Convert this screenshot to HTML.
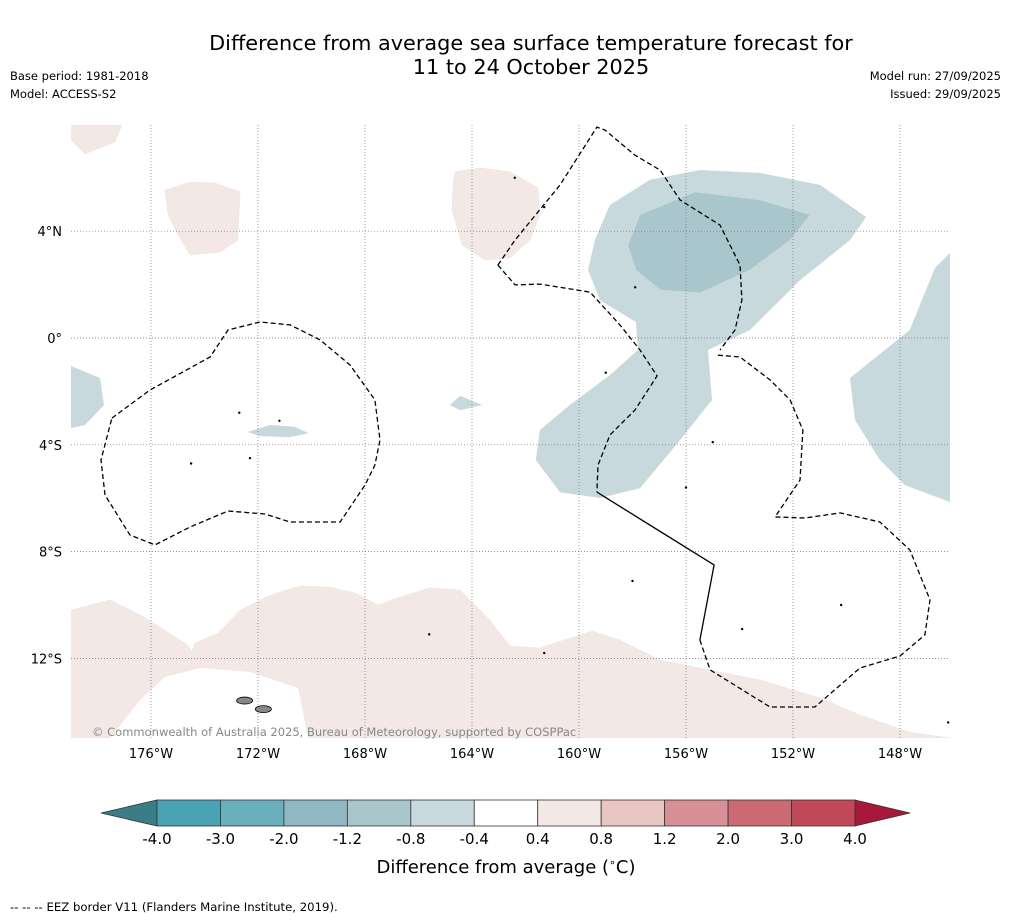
<!DOCTYPE html>
<html><head><meta charset="utf-8"><style>
body{margin:0;background:#fff;}
svg text{font-family:"DejaVu Sans","Liberation Sans",sans-serif;}
</style></head><body>
<svg id="chart" width="1011" height="919" viewBox="0 0 1011 919" xmlns="http://www.w3.org/2000/svg">
<rect width="1011" height="919" fill="#fff"/>
<text x="531" y="50" font-size="20.8" text-anchor="middle">Difference from average sea surface temperature forecast for</text>
<text x="531" y="74" font-size="20.8" text-anchor="middle">11 to 24 October 2025</text>
<text x="10" y="80" font-size="11.5">Base period: 1981-2018</text>
<text x="10" y="98" font-size="11.5">Model: ACCESS-S2</text>
<text x="1001" y="80" font-size="11.5" text-anchor="end">Model run: 27/09/2025</text>
<text x="1001" y="98" font-size="11.5" text-anchor="end">Issued: 29/09/2025</text>
<g id="map"></g>
<text x="92" y="736" font-size="11.5" fill="#888">© Commonwealth of Australia 2025, Bureau of Meteorology, supported by COSPPac</text>
<g id="xaxis"></g>
<g id="yaxis"></g>
<g id="cbar"></g>
<text x="506" y="873" font-size="18" text-anchor="middle">Difference from average (<tspan font-size="11" dy="-7">∘</tspan><tspan dy="7">C)</tspan></text>
<text x="10" y="911" font-size="11.7">--  --  -- EEZ border V11 (Flanders Marine Institute, 2019).</text>
</svg>
<script>
const lonTicks=[-176,-172,-168,-164,-160,-156,-152,-148];
const lonLabels=["176°W","172°W","168°W","164°W","160°W","156°W","152°W","148°W"];
const latTicks=[4,0,-4,-8,-12];
const latLabels=["4°N","0°","4°S","8°S","12°S"];
const cbBounds=[-4,-3,-2,-1.2,-0.8,-0.4,0.4,0.8,1.2,2,3,4];
const cbColors=["#4aa3b3","#6aafbc","#8fb8c3","#a8c6cc","#c7d9dd","#ffffff","#f4e8e7","#e8c6c2","#d69096","#cc6a74","#c04858"];
const pinkSouth=[[-179,-10.19],[-177.53,-9.81],[-176.41,-10.37],[-174.62,-11.5],[-174.47,-11.76],[-174.36,-11.42],[-173.5,-11.05],[-172.67,-10.19],[-171.55,-9.63],[-170.43,-9.29],[-169.31,-9.33],[-168.37,-9.55],[-167.51,-10],[-166.69,-9.7],[-165.57,-9.36],[-164.45,-9.44],[-163.33,-10.56],[-162.58,-11.54],[-161.46,-11.61],[-160.34,-11.24],[-159.51,-10.97],[-158.47,-11.31],[-156.97,-12.06],[-155.48,-12.36],[-153.23,-12.81],[-150.99,-13.48],[-149.5,-14.12],[-147.63,-14.76],[-146.13,-14.98],[-179,-14.98]];
const whiteIsle=[[-177.53,-14.98],[-176.41,-13.56],[-175.48,-12.7],[-174.17,-12.36],[-172.3,-12.51],[-170.5,-13.11],[-170.13,-14.98]];
const pinkTL=[[-179,7.98],[-177.08,7.98],[-177.35,7.34],[-178.47,6.89],[-179,7.42]];
const pinkA=[[-175.48,5.54],[-174.54,5.84],[-173.61,5.81],[-172.67,5.47],[-172.75,3.67],[-173.42,3.22],[-174.54,3.11],[-174.99,3.86],[-175.36,4.61]];
const pinkB=[[-164.64,6.22],[-163.7,6.37],[-162.58,6.22],[-161.53,5.62],[-161.46,4.61],[-161.83,3.67],[-162.58,3.0],[-163.51,2.92],[-164.37,3.48],[-164.75,4.79],[-164.71,5.73]];
const blueMain=[[-159.4,3.67],[-158.84,4.98],[-157.35,5.92],[-155.48,6.29],[-153.23,6.18],[-150.99,5.73],[-149.27,4.53],[-149.87,3.67],[-151.74,2.17],[-153.61,0.3],[-155.18,-0.45],[-155.03,-2.32],[-156.22,-3.82],[-157.72,-5.62],[-159.21,-5.99],[-160.71,-5.77],[-161.61,-4.57],[-161.46,-3.45],[-160.34,-2.51],[-158.84,-1.39],[-157.79,-0.45],[-157.87,0.6],[-159.21,1.42],[-159.66,2.55]];
const blueInner=[[-158.17,3.48],[-157.72,4.61],[-155.66,5.47],[-153.23,5.17],[-151.36,4.61],[-152.11,3.67],[-153.61,2.55],[-155.48,1.69],[-156.97,1.8],[-157.87,2.55]];
const blueRight=[[-146.13,3.18],[-146.69,2.62],[-147.18,1.42],[-147.63,0.3],[-149.87,-1.5],[-149.68,-3.07],[-148.75,-4.57],[-147.81,-5.51],[-146.13,-6.14]];
const blueLeft=[[-179,-1.05],[-177.91,-1.5],[-177.76,-2.51],[-178.47,-3.26],[-179,-3.37]];
const blueSmallA=[[-172.37,-3.52],[-171.55,-3.26],[-170.62,-3.33],[-170.13,-3.56],[-170.8,-3.71],[-171.93,-3.67]];
const blueSmallB=[[-164.82,-2.51],[-164.45,-2.17],[-163.63,-2.51],[-164.45,-2.7]];
const eezLeft=[[-177.46,-3],[-176.04,-1.95],[-173.79,-0.71],[-173.12,0.3],[-171.93,0.6],[-170.8,0.49],[-169.68,-0.07],[-168.56,-1.01],[-167.63,-2.32],[-167.44,-3.82],[-167.63,-4.76],[-168,-5.51],[-168.93,-6.89],[-170.8,-6.89],[-171.74,-6.59],[-173.12,-6.48],[-174.54,-7.08],[-175.85,-7.75],[-176.79,-7.38],[-177.72,-5.88],[-177.87,-4.57],[-177.46,-3]];
const eezUpper=[[-163.03,2.73],[-162.39,3.67],[-160.71,5.73],[-159.33,7.9],[-159.03,7.79],[-157.91,6.85],[-156.97,6.29],[-156.22,5.17],[-154.73,4.23],[-153.98,2.73],[-153.91,1.42],[-154.17,0.3],[-154.73,-0.45]];
const eezLower=[[-163.03,2.73],[-162.39,1.99],[-161.46,2.02],[-159.59,1.72],[-158.47,0.49],[-157.72,-0.45],[-157.08,-1.42],[-157.91,-2.7],[-158.84,-3.63],[-159.29,-4.76],[-159.33,-5.77]];
const eezSolid=[[-159.33,-5.77],[-154.95,-8.5],[-155.48,-11.31]];
const eezRight=[[-155.48,-11.31],[-155.1,-12.43],[-152.86,-13.82],[-151.18,-13.82],[-149.5,-12.36],[-148,-11.91],[-147.07,-11.12],[-146.88,-9.81],[-147.63,-7.94],[-148.75,-6.89],[-150.24,-6.55],[-151.55,-6.74],[-152.67,-6.7],[-151.74,-5.32],[-151.63,-3.45],[-152.11,-2.32],[-152.86,-1.57],[-153.98,-0.71],[-154.84,-0.64]];
const islands=[[-172.5,-13.58],[-171.8,-13.9]];
const dots=[[-172.7,-2.8],[-171.2,-3.1],[-174.5,-4.7],[-172.3,-4.5],[-161.3,-11.8],[-165.6,-11.1],[-158,-9.1],[-153.9,-10.9],[-157.9,1.9],[-161.3,4.9],[-162.4,6.0],[-159,-1.3],[-155,-3.9],[-156,-5.6],[-179.2,-14.3],[-146.2,-14.4],[-150.2,-10]];

const NS="http://www.w3.org/2000/svg";
const X0=71,X1=950,Y0=125,Y1=738;
const xs=lon=>151+(lon+176)*26.75;
const ys=lat=>338-lat*26.7;
function mk(parent,tag,attrs){const e=document.createElementNS(NS,tag);for(const k in attrs)e.setAttribute(k,attrs[k]);parent.appendChild(e);return e;}
function pts(a){return a.map(p=>xs(p[0]).toFixed(1)+","+ys(p[1]).toFixed(1)).join(" ");}
const svg=document.getElementById('chart');
const defs=mk(svg,'defs',{});
const cp=mk(defs,'clipPath',{id:'mapclip'});
mk(cp,'rect',{x:X0,y:Y0,width:X1-X0,height:Y1-Y0});
const map=document.getElementById('map');
map.setAttribute('clip-path','url(#mapclip)');
function poly(arr,fill,name){const e=mk(map,'polygon',{points:pts(arr),fill:fill,stroke:fill==='#ffffff'?'none':'#ddc',"stroke-width":0.3});

return e;}
poly(pinkSouth,'#f4e8e7','anomaly-pink-south');
poly(whiteIsle,'#ffffff','anomaly-neutral-south');
poly(pinkTL,'#f4e8e7','anomaly-pink-northwest');
poly(pinkA,'#f4e8e7','anomaly-pink-west');
poly(pinkB,'#f4e8e7','anomaly-pink-central');
poly(blueMain,'#c7d9dd','anomaly-blue-central');
poly(blueInner,'#a8c6cc','anomaly-blue-core');
poly(blueRight,'#c7d9dd','anomaly-blue-east');
poly(blueLeft,'#c7d9dd','anomaly-blue-west');
poly(blueSmallA,'#c7d9dd','anomaly-blue-small-a');
poly(blueSmallB,'#c7d9dd','anomaly-blue-small-b');
lonTicks.forEach((lon,i)=>{const l=mk(map,'line',{x1:xs(lon),x2:xs(lon),y1:Y0,y2:Y1,stroke:'#7a6a8a',"stroke-width":0.7,"stroke-dasharray":"1,2"});


const t=mk(document.getElementById('xaxis'),'text',{x:xs(lon),y:758,"font-size":13,"text-anchor":"middle"});t.textContent=lonLabels[i];

});
latTicks.forEach((lat,i)=>{const l=mk(map,'line',{x1:X0,x2:X1,y1:ys(lat),y2:ys(lat),stroke:'#7a6a8a',"stroke-width":0.7,"stroke-dasharray":"1,2"});


const t=mk(document.getElementById('yaxis'),'text',{x:62,y:ys(lat)+5,"font-size":13,"text-anchor":"end"});t.textContent=latLabels[i];

});
function line(arr,dash,name){const e=mk(map,'polyline',{points:pts(arr),fill:'none',stroke:'#000',"stroke-width":1.3,"stroke-dasharray":dash});

}
line(eezLeft,'5,3','eez-border-west');
line(eezUpper,'5,3','eez-border-north');
line(eezLower,'5,3','eez-border-central');
line(eezSolid,'none','eez-border-solid');
line(eezRight,'5,3','eez-border-east');
islands.forEach(p=>{const e=mk(map,'ellipse',{cx:xs(p[0]),cy:ys(p[1]),rx:8,ry:3.5,fill:'#888',stroke:'#000',"stroke-width":0.8});

});
dots.forEach(p=>{const e=mk(map,'circle',{cx:xs(p[0]),cy:ys(p[1]),r:1.2,fill:'#000'});

});
const cb=document.getElementById('cbar');
const cbx0=157,cbw=698/(cbBounds.length-1),cby=800,cbh=26;
const cpos=i=>cbx0+i*cbw;
const l1=mk(cb,'polygon',{points:`101,813 ${cbx0},${cby} ${cbx0},${cby+cbh}`,fill:'#3a7d87',stroke:'#333',"stroke-width":0.8});


const r1=mk(cb,'polygon',{points:`910,813 ${cpos(11)},${cby} ${cpos(11)},${cby+cbh}`,fill:'#a8183a',stroke:'#333',"stroke-width":0.8});


cbColors.forEach((c,i)=>{const r=mk(cb,'rect',{x:cpos(i),y:cby,width:cbw,height:cbh,fill:c,stroke:'#333',"stroke-width":0.8});

});
cbBounds.forEach((b,i)=>{const t=mk(cb,'text',{x:cpos(i),y:844,"font-size":15,"text-anchor":"middle"});t.textContent=b.toFixed(1);

});
</script>
</body></html>
